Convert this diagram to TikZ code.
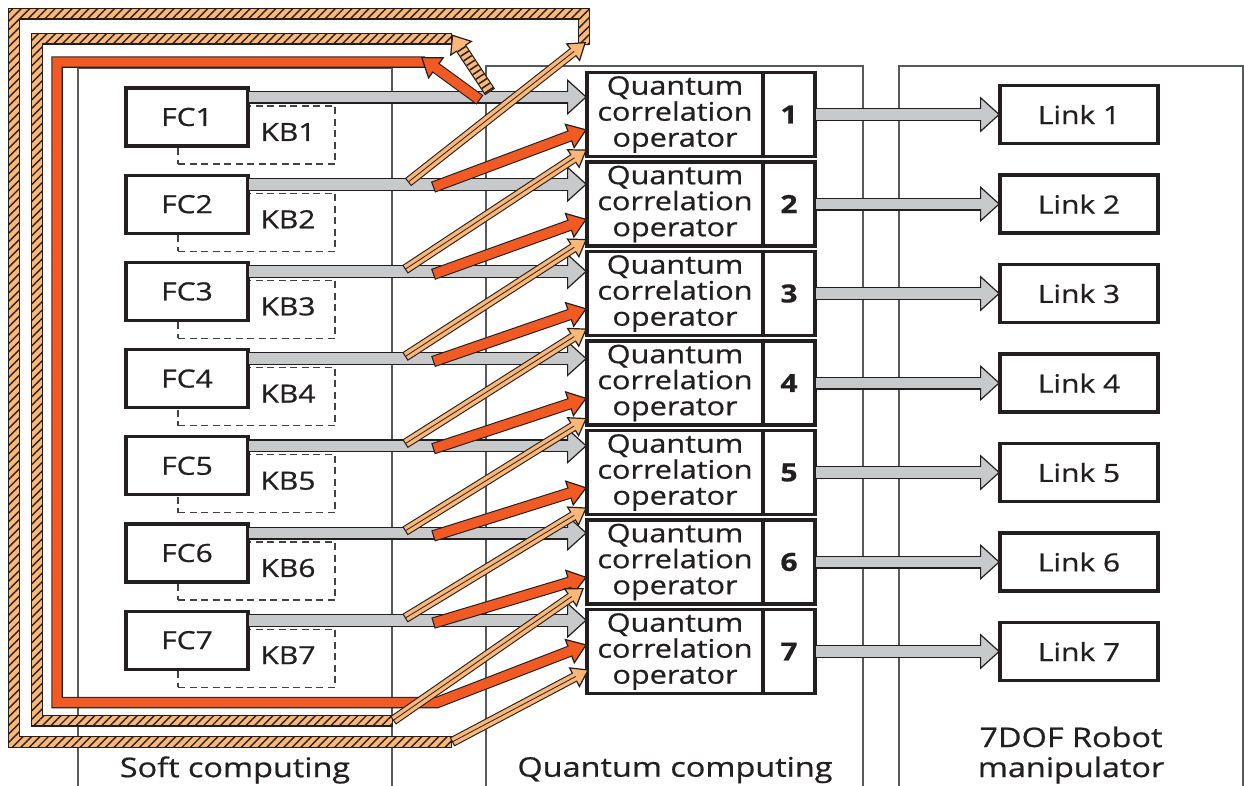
\documentclass[tikz,border=0pt]{standalone}
\usepackage{fontspec}
\setmainfont{Open Sans}[FakeStretch=1.2, FakeBold=0.7]
\usetikzlibrary{arrows.meta,positioning,calc,patterns.meta}
\definecolor{Ink}{HTML}{231F20}
\definecolor{Frame}{HTML}{58595B}
\definecolor{Grey}{HTML}{C8C9CB}
\definecolor{Flame}{HTML}{F15A22}
\definecolor{Sand}{HTML}{FBB777}
\tikzset{
  every node/.append style={text=Ink, font=\fontsize{25}{26}\selectfont},
  frame/.style={draw=Frame, line width=1.6pt},
  fcbox/.style={draw=Ink, line width=3.3pt, fill=white, minimum width=122pt,
                minimum height=58pt, inner sep=0pt, outer sep=0pt},
  kbbox/.style={draw=Ink!85, line width=1.3pt, dash pattern=on 7pt off 4.5pt,
                minimum width=157pt, minimum height=58pt, outer sep=0pt},
  qbox/.style={fcbox, minimum width=176pt, minimum height=84pt, align=center,
               font=\fontsize{25.5}{26}\selectfont},
  numbox/.style={qbox, minimum width=52pt, font=\fontsize{25}{26}\selectfont\bfseries},
  linkbox/.style={fcbox, minimum width=158pt},
  caption/.style={align=center, font=\fontsize{27}{30}\selectfont},
  greyout/.style={line width=13pt, draw=Ink,
                  -{Triangle[length=20pt, width=36pt, fill=Grey, line width=1.2pt]}},
  greyin/.style={line width=10.6pt, draw=Grey, shorten <=1.2pt, shorten >=18pt},
  flameout/.style={line width=11.5pt, draw=Ink, line join=miter,
                   -{Triangle[length=19pt, width=27pt, fill=Flame, line width=1.2pt]}},
  flamein/.style={line width=9.3pt, draw=Flame, line join=miter,
                  shorten <=1.2pt, shorten >=17pt},
  sandout/.style={line width=10pt, draw=Ink,
                  -{Triangle[length=17pt, width=23pt, fill=Sand, line width=1.2pt]}},
  sandin/.style={line width=7.8pt, draw=Sand, shorten <=1.2pt, shorten >=15pt,
                 postaction={draw=Ink, line width=0.8pt}},
  bandout/.style={line width=12pt, draw=Ink, line join=miter},
  bandin/.style={line width=9.6pt, draw=Sand, line join=miter,
                 shorten <=1.2pt, shorten >=1.2pt},
  stripes/.style={pattern={Lines[angle=45, distance=6pt, line width=1.4pt]},
                  pattern color=Ink},
  hatchout/.style={line width=12pt, draw=Ink,
                   -{Triangle[length=17pt, width=27pt, fill=Sand, line width=1.2pt]}},
  hatchin/.style={line width=9.6pt, draw=Sand, shorten <=1.2pt, shorten >=15pt,
                  postaction={draw=Ink, dash pattern=on 1.5pt off 4pt}},
}
% outlined fat arrow: edge stroke with tip, then the filling stroke
\newcommand\fat[2]{\draw[#1out] #2; \draw[#1in] #2;}

\begin{document}
\begin{tikzpicture}[x=1pt, y=-1pt]
  \useasboundingbox (0,0) rectangle (1244,785);
  \clip (0,0) rectangle (1244,785);
  % panels
  \draw[frame] (78,800) |- (392,68) -- (392,800);
  \draw[frame] (486,800) |- (863,66) -- (863,800);
  \draw[frame] (899,800) |- (1243,66) -- (1243,800);
  % fuzzy controllers and knowledge bases
  \foreach \i in {1,...,7} {
    \pgfmathsetmacro\fy{117+87.2*(\i-1)}
    \node[kbbox] (kb\i) at (256.5,\fy+18) {};
    \node (kbt\i) at (288,\fy+15) {KB\i};
    \node[fcbox] (fc\i) at (187,\fy) {FC\i};
  }
  % correlation operators and links
  \foreach \i in {1,...,7} {
    \pgfmathsetmacro\qy{114.5+89.5*(\i-1)}
    \node[qbox] (q\i) at (675,\qy) {Quantum\\correlation\\operator};
    \node[numbox, anchor=west] (qn\i) at (q\i.east) {\i};
    \node[linkbox] (lk\i) at (1079,\qy) {Link \i};
  }
  % direct signals
  \foreach \i in {1,...,7} {
    \coordinate (gt\i) at ($(fc\i.north east)+(0,9)$);
    \fat{grey}{(gt\i) -- (q\i.west |- gt\i)}
    \fat{grey}{(qn\i.east) -- (lk\i.west)}
  }
  % feedback loops
  \coordinate (o1) at (584,45);   \coordinate (o2) at (584,13.5);
  \coordinate (o3) at (14,13.5);  \coordinate (o4) at (14,742);
  \coordinate (o5) at (452,742);
  \coordinate (m1) at (452,38.5); \coordinate (m2) at (37,38.5);
  \coordinate (m3) at (37,720.5); \coordinate (m4) at (393,720.5);
  \coordinate (r1) at (425,62);   \coordinate (r2) at (57,62);
  \coordinate (r3) at (57,702.5); \coordinate (r4) at (437,702.5);
  \fat{band}{(o1) -- (o2) -- (o3) -- (o4) -- (o5)}
  \fill[stripes] ($(o3)+(-4.8,-4.8)$) rectangle ($(o2)+(4.8,4.8)$)
                 ($(o3)+(-4.8,-4.8)$) rectangle ($(o4)+(4.8,4.8)$)
                 ($(o4)+(-4.8,-4.8)$) rectangle ($(o5)+(-1.2,4.8)$)
                 ($(o2)+(-4.8,-4.8)$) rectangle ($(o1)+(4.8,0)$);
  \fat{band}{(m1) -- (m2) -- (m3) -- (m4)}
  \fill[stripes] ($(m2)+(-4.8,-4.8)$) rectangle ($(m1)+(0,4.8)$)
                 ($(m2)+(-4.8,-4.8)$) rectangle ($(m3)+(4.8,4.8)$)
                 ($(m3)+(-4.8,-4.8)$) rectangle ($(m4)+(-1.2,4.8)$);
  \fat{flame}{(r1) -- (r2) -- (r3) -- (r4) -- ($(q7.north west)+(0,35)$)}
  % shifted signals
  \foreach \k [evaluate=\k as \j using int(\k+1)] in {1,...,6} {
    \fat{flame}{($(fc\j.north east)+(185,12)$) -- ($(q\k.north west)+(0,57)$)}
  }
  \foreach \k [evaluate=\k as \j using int(\k+2)] in {1,...,5} {
    \fat{sand}{($(fc\j.north east)+(157,7)$) -- ($(q\k.north west)+(0,77)$)}
  }
  \fat{sand}{($(fc2.north east)+(160,7)$) -- ($(o1)+(2,-3)$)}
  \fat{sand}{(m4) -- ($(q6.north west)+(-3,68)$)}
  \fat{sand}{(o5) -- ($(q7.north west)+(2,60)$)}
  \fat{flame}{($(fc1.north east)+(232,12)$) -- ($(r1)+(-4,-5)$)}
  \fat{hatch}{($(fc1.north east)+(242,4)$) -- ($(m1)+(0,-4)$)}
  % panel captions
  \node[caption] (softlbl) at (235,770) {Soft computing};
  \node[caption] (quantlbl) at (675,770) {Quantum computing};
  \node[caption] (robotlbl) at (1071,755) {7DOF Robot\\manipulator};
\end{tikzpicture}
\end{document}
